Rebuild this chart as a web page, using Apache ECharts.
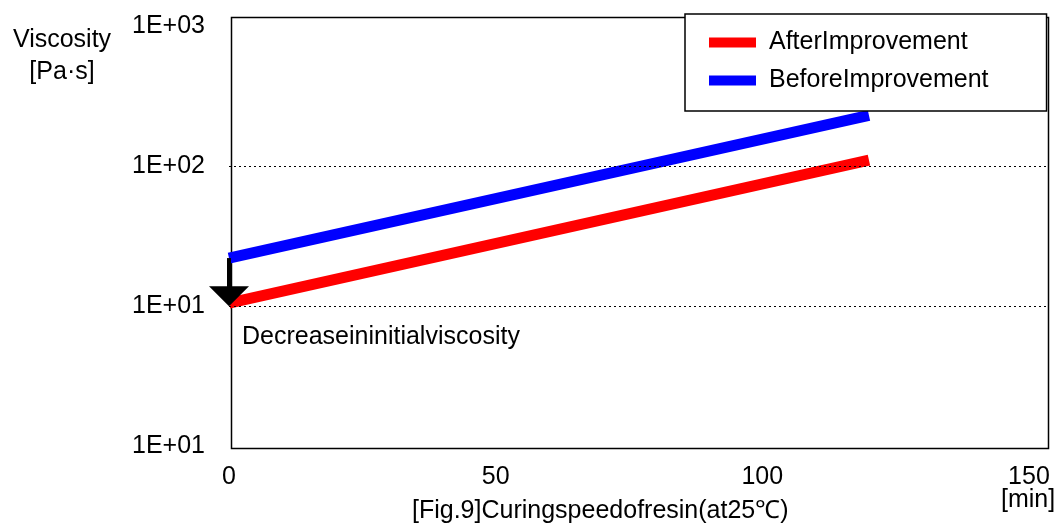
<!DOCTYPE html>
<html lang="en">
<head>
    <meta charset="UTF-8">
    <title>Curing speed of resin</title>
    <script src="https://cdn.jsdelivr.net/npm/echarts@6/dist/echarts.min.js"></script>
    <style>
        html, body { margin: 0; padding: 0; background: #fff; }
        #chart { width: 1063px; height: 528px; }
    </style>
</head>
<body>
    <div id="chart"></div>
    <script>
        // data
        const timeMin = [0, 120];
        const afterImprovement = [10.5, 110];
        const beforeImprovement = [22, 230];
        const yTickValues = [1, 10, 100, 1000];
        const yTickLabels = ['1E+01', '1E+01', '1E+02', '1E+03'];
        const xTicks = [0, 50, 100, 150];
        const gridValues = [10, 100];

        const font = '"Liberation Sans", Arial, sans-serif';
        const fs = 25;
        let myEchart = echarts.init(document.querySelector('#chart'));

        function pairs(xs, ys) {
            return xs.map((x, i) => [x, ys[i]]);
        }

        let option = {
            animation: false,
            textStyle: { fontFamily: font },
            grid: {
                left: 229,
                right: 17,
                top: 26,
                bottom: 82,
                outerBoundsMode: 'none',
                containLabel: false
            },
            legend: {
                orient: 'vertical',
                left: 685,
                top: 14,
                padding: [16, 58, 18, 24],
                itemWidth: 47,
                itemHeight: 10,
                itemGap: 13,
                borderColor: '#000',
                borderWidth: 1.5,
                backgroundColor: '#fff',
                textStyle: { fontSize: fs, color: '#000', fontFamily: font, padding: [0, 0, 0, 8] },
                data: [
                    { name: 'AfterImprovement', icon: 'rect' },
                    { name: 'BeforeImprovement', icon: 'rect' }
                ]
            },
            xAxis: {
                type: 'value',
                min: 0,
                max: 153.2,
                axisLine: { show: false },
                axisTick: { show: false },
                splitLine: { show: false },
                axisLabel: {
                    fontSize: fs,
                    color: '#000',
                    margin: 19,
                    customValues: xTicks
                }
            },
            yAxis: {
                type: 'log',
                logBase: 10,
                min: 1,
                max: 1000,
                axisLine: { show: false },
                axisTick: { show: false },
                splitLine: { show: false },
                axisLabel: {
                    fontSize: fs,
                    color: '#000',
                    margin: 24,
                    formatter: function (v) {
                        let i = yTickValues.indexOf(Math.round(v));
                        return i >= 0 ? yTickLabels[i] : '';
                    }
                }
            },
            graphic: [
                {
                    type: 'rect',
                    left: 229,
                    top: 15,
                    z: 0,
                    shape: { width: 817, height: 431 },
                    style: { fill: 'none', stroke: '#000', lineWidth: 1.5 }
                },
                {
                    type: 'text',
                    x: 62,
                    y: 24,
                    style: {
                        text: 'Viscosity\n[Pa·s]',
                        fill: '#000',
                        font: fs + 'px ' + font,
                        align: 'center',
                        lineHeight: 32
                    }
                },
                {
                    type: 'text',
                    left: 242,
                    top: 325,
                    style: { text: 'Decreaseininitialviscosity', fill: '#000', font: fs + 'px ' + font }
                },
                {
                    type: 'text',
                    left: 1001,
                    top: 488,
                    style: { text: '[min]', fill: '#000', font: fs + 'px ' + font }
                },
                {
                    type: 'text',
                    left: 412,
                    top: 499,
                    style: { text: '[Fig.9]Curingspeedofresin(at25℃)', fill: '#000', font: fs + 'px ' + font }
                }
            ],
            series: [
                {
                    name: 'AfterImprovement',
                    type: 'line',
                    data: pairs(timeMin, afterImprovement),
                    showSymbol: false,
                    z: 3,
                    lineStyle: { color: '#ff0000', width: 11 },
                    itemStyle: { color: '#ff0000' },
                    markLine: {
                        silent: true,
                        symbol: 'none',
                        label: { show: false },
                        lineStyle: { color: '#000', type: [2, 3], width: 1 },
                        data: gridValues.map(v => ({ yAxis: v }))
                    }
                },
                {
                    name: 'BeforeImprovement',
                    type: 'line',
                    data: pairs(timeMin, beforeImprovement),
                    showSymbol: false,
                    z: 3,
                    lineStyle: { color: '#0000ff', width: 11 },
                    itemStyle: { color: '#0000ff' },
                    markLine: {
                        silent: true,
                        symbol: ['none', 'triangle'],
                        symbolSize: [40, 20],
                        symbolRotate: 180,
                        label: { show: false },
                        lineStyle: { color: '#000', type: 'solid', width: 4 },
                        data: [[
                            { coord: [timeMin[0], beforeImprovement[0]] },
                            { coord: [timeMin[0], afterImprovement[0] * 1.12] }
                        ]]
                    }
                }
            ]
        };
        myEchart.setOption(option);
    </script>
</body>
</html>
